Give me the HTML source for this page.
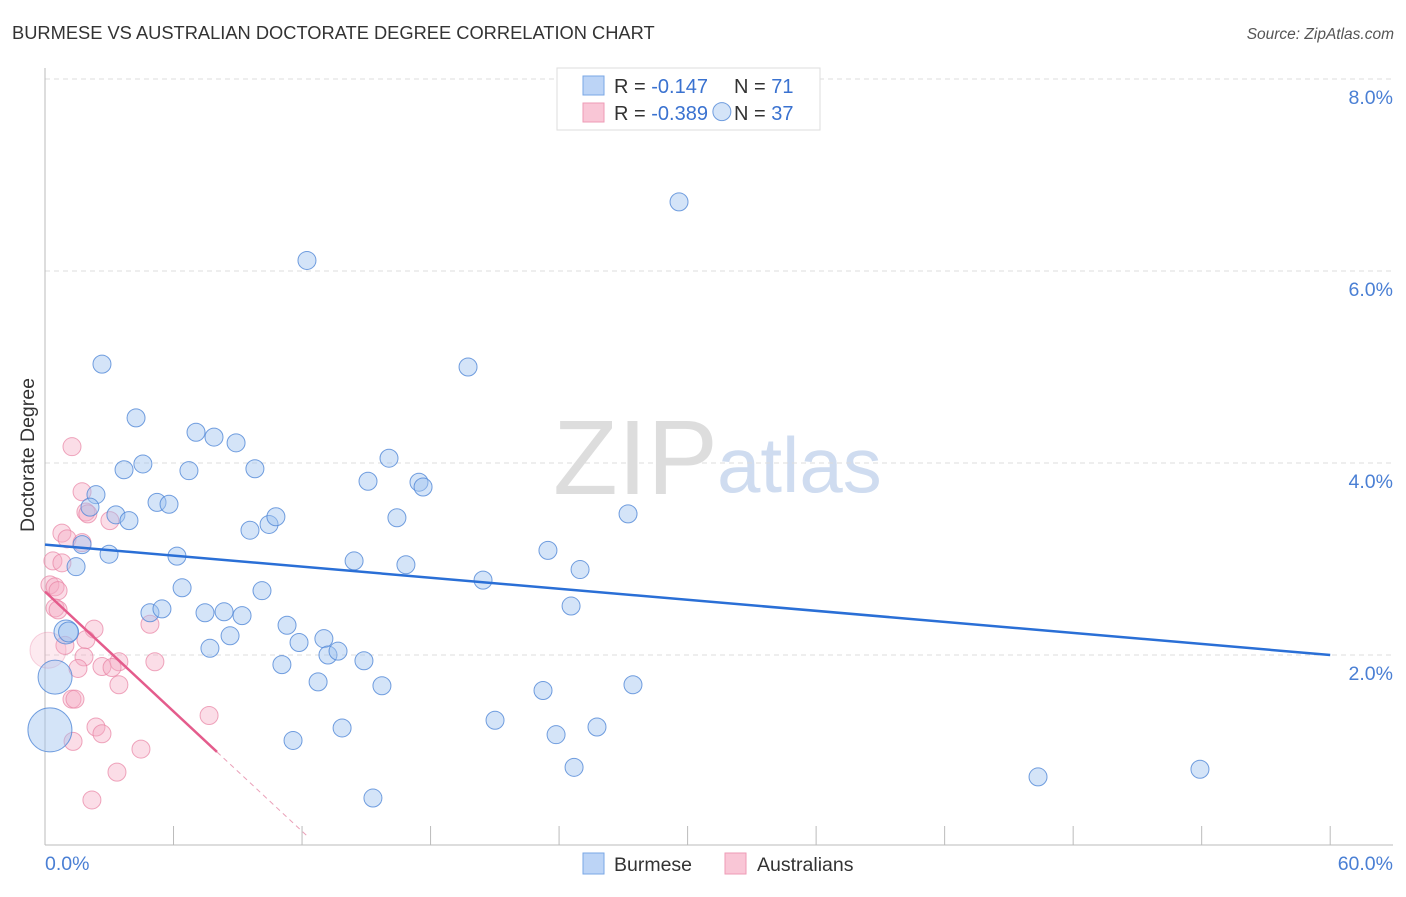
<!DOCTYPE html>
<html><head><meta charset="utf-8"><style>
body{margin:0;background:#fff;font-family:"Liberation Sans",sans-serif}
svg text{font-family:"Liberation Sans",sans-serif}
</style></head><body>
<svg width="1406" height="892" id="c">
<text x="12" y="39" font-size="18.3" fill="#333">BURMESE VS AUSTRALIAN DOCTORATE DEGREE CORRELATION CHART</text>
<text x="1394" y="39" font-size="15.5" fill="#555" text-anchor="end" font-style="italic">Source: ZipAtlas.com</text>
<text x="34" y="455" font-size="19.5" fill="#333" text-anchor="middle" transform="rotate(-90 34 455)">Doctorate Degree</text>
<g>
<text x="553" y="494" font-size="106" fill="#ddd" font-family="Liberation Serif,serif">ZIP</text>
<text x="717" y="492" font-size="78" fill="#cfdcf0">atlas</text>
</g>
<g id="grid"></g>
<line x1="45" y1="68" x2="45" y2="845" stroke="#bbb"/>
<line x1="45" y1="845" x2="1393" y2="845" stroke="#bbb"/>
<g id="xt"></g>
<g>
<rect x="557" y="68" width="263" height="62" fill="#fff" stroke="#ddd"/>
<rect x="583" y="76" width="21" height="19" fill="#bcd4f6" stroke="#7aa7e6"/>
<rect x="583" y="103" width="21" height="19" fill="#f9c6d6" stroke="#ee9bb6"/>
<text x="614" y="93" font-size="20" fill="#333">R = <tspan fill="#3a72d0"> -0.147</tspan></text>
<text x="734" y="93" font-size="20" fill="#333">N = <tspan fill="#3a72d0"> 71</tspan></text>
<text x="614" y="120" font-size="20" fill="#333">R = <tspan fill="#3a72d0">-0.389</tspan></text>
<text x="734" y="120" font-size="20" fill="#333">N = <tspan fill="#3a72d0">37</tspan></text>
</g>
<g id="pts"></g>
<g id="lines"></g>
<text x="45" y="870" font-size="19.5" fill="#4a7fd4">0.0%</text>
<text x="1393" y="870" font-size="19.5" fill="#4a7fd4" text-anchor="end">60.0%</text>
<g>
<rect x="583" y="853" width="21" height="21" fill="#bcd4f6" stroke="#7aa7e6"/>
<text x="614" y="871" font-size="19.5" fill="#333">Burmese</text>
<rect x="725" y="853" width="21" height="21" fill="#f9c6d6" stroke="#ee9bb6"/>
<text x="757" y="871" font-size="19.5" fill="#333">Australians</text>
</g>
</svg>
<script>
const yTicks=[2,4,6,8];
const yTickLabels=["2.0%","4.0%","6.0%","8.0%"];
const xTicks=[0,6,12,18,24,30,36,42,48,54,60];
const bX=[2.66,4.25,7.05,7.89,8.92,3.69,4.57,6.72,9.8,2.38,5.23,5.79,2.1,3.31,3.92,1.73,2.99,1.45,6.16,9.57,10.46,10.78,12.23,29.6,19.75,16.06,15.08,17.46,17.65,16.43,27.22,23.48,14.43,16.85,24.98,20.45,24.56,6.4,10.13,4.9,5.46,7.47,8.36,9.2,11.3,8.64,7.7,11.86,13.02,13.21,13.68,14.89,11.06,12.75,15.73,23.25,27.45,21.01,13.87,25.77,23.86,11.58,24.7,15.31,46.36,53.92,31.6,0.98,1.1,0.47,0.23];
const bY=[5.03,4.47,4.32,4.27,4.21,3.93,3.99,3.92,3.94,3.67,3.59,3.57,3.54,3.46,3.4,3.15,3.05,2.92,3.03,3.3,3.36,3.44,6.11,6.72,5.0,4.05,3.81,3.8,3.75,3.43,3.47,3.09,2.98,2.94,2.89,2.78,2.51,2.7,2.67,2.44,2.48,2.44,2.45,2.41,2.31,2.2,2.07,2.13,2.17,2.0,2.04,1.94,1.9,1.72,1.68,1.63,1.69,1.32,1.24,1.25,1.17,1.11,0.83,0.51,0.73,0.81,7.66,2.24,2.24,1.77,1.22];
const bR=[9,9,9,9,9,9,9,9,9,9,9,9,9,9,9,9,9,9,9,9,9,9,9,9,9,9,9,9,9,9,9,9,9,9,9,9,9,9,9,9,9,9,9,9,9,9,9,9,9,9,9,9,9,9,9,9,9,9,9,9,9,9,9,9,9,9,9,12,10,17,22];
const pX=[1.26,1.73,1.91,2.0,3.03,0.79,1.03,1.73,0.37,0.79,0.23,0.47,0.61,0.47,0.61,4.9,2.29,1.91,0.93,1.82,3.45,5.13,1.54,2.66,3.13,3.45,1.26,1.4,7.66,2.38,2.66,1.31,4.48,3.36,2.19,0.14];
const pY=[4.17,3.7,3.49,3.47,3.4,3.27,3.21,3.17,2.98,2.96,2.73,2.71,2.67,2.49,2.47,2.32,2.27,2.16,2.1,1.98,1.93,1.93,1.86,1.88,1.87,1.69,1.54,1.54,1.37,1.25,1.18,1.1,1.02,0.78,0.49,2.05];
const blueTrend=[3.15,2.0];
const pinkTrend=[2.66,0.99];const pinkSolidEnd=8.03;const pinkDashEnd=12.3;
const sx=v=>45+v*21.42, sy=v=>847-v*96;
const NS="http://www.w3.org/2000/svg";
function mk(t,a,p){const e=document.createElementNS(NS,t);for(const k in a)e.setAttribute(k,a[k]);p.appendChild(e);return e;}
const g=document.getElementById('grid');
yTicks.forEach((v,i)=>{
 const l=mk('line',{x1:45,x2:1393,y1:sy(v),y2:sy(v),stroke:'#ddd','stroke-dasharray':'5,4'},g);
 
 
 const t=mk('text',{x:1393,y:sy(v)+25,'font-size':19.5,fill:'#4a7fd4','text-anchor':'end'},g);
 t.textContent=yTickLabels[i];
 
 
});
const xt=document.getElementById('xt');
xTicks.forEach(v=>{
 const l=mk('line',{x1:sx(v),x2:sx(v),y1:826,y2:845,stroke:'#bbb'},xt);
 
 
});
const pts=document.getElementById('pts');
pX.forEach((x,i)=>{
 const big=i==pX.length-1;
 const c=mk('circle',{cx:sx(x),cy:sy(pY[i]),r:big?18:9,fill:big?'rgba(246,170,196,0.25)':'rgba(246,170,196,0.4)',stroke:big?'rgba(232,130,162,0.35)':'rgba(232,130,162,0.7)','stroke-width':1},pts);
 
 
});
bX.forEach((x,i)=>{
 const c=mk('circle',{cx:sx(x),cy:sy(bY[i]),r:bR[i],fill:'rgba(160,195,240,0.45)',stroke:'rgba(80,135,215,0.8)','stroke-width':1},pts);
 
 
});
const L=document.getElementById('lines');
const bl=mk('line',{x1:sx(0),y1:sy(blueTrend[0]),x2:sx(60),y2:sy(blueTrend[1]),stroke:'#2a6fd6','stroke-width':2.5},L);


const slope=(pinkTrend[1]-pinkTrend[0])/pinkSolidEnd;
const pl=mk('line',{x1:sx(0),y1:sy(pinkTrend[0]),x2:sx(pinkSolidEnd),y2:sy(pinkTrend[1]),stroke:'#e45c8c','stroke-width':2.5},L);


const pd=mk('line',{x1:sx(pinkSolidEnd),y1:sy(pinkTrend[1]),x2:sx(pinkDashEnd),y2:sy(pinkTrend[0]+slope*pinkDashEnd),stroke:'#eaa0b8','stroke-width':1,'stroke-dasharray':'5,4'},L);


</script>
</body></html>
